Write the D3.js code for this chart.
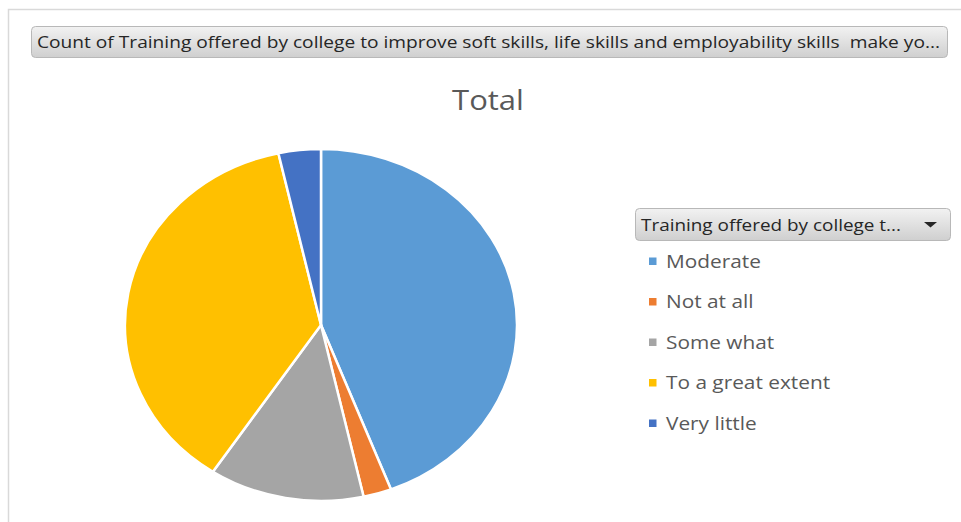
<!DOCTYPE html>
<html>
<head>
<meta charset="utf-8">
<script src="https://cdn.jsdelivr.net/npm/d3@7"></script>
<style>
  body { margin: 0; background: #fff; }
  svg { display: block; font-family: "Open Sans", sans-serif; }
  text { white-space: pre; }
</style>
</head>
<body>
<svg></svg>
<script>
// counts
var categories = ["Moderate", "Not at all", "Some what", "To a great extent", "Very little"];
var counts = [38, 2, 11, 32, 3];
var colors = ["#5B9BD5", "#ED7D31", "#A5A5A5", "#FFC000", "#4472C4"];
var fieldButton = "Count of Training offered by college to improve soft skills, life skills and employability skills  make yo...";
var legendButton = "Training offered by college t...";
var chartTitle = "Total";

var svgWidth = 961, svgHeight = 522;
var stretch = 1.107; // picture is a bit wider than tall

var svg = d3.select("svg")
  .attr("width", svgWidth)
  .attr("height", svgHeight);

var defs = svg.append("defs");
var grad = defs.append("linearGradient")
  .attr("id", "btn")
  .attr("x1", 0).attr("y1", 0).attr("x2", 0).attr("y2", 1);
grad.append("stop").attr("offset", "0%").attr("stop-color", "#f2f2f2");
grad.append("stop").attr("offset", "100%").attr("stop-color", "#cfcfcf");

// chart area border
svg.append("rect")
  .attr("x", 8.5).attr("y", 9.5)
  .attr("width", 1200).attr("height", 800)
  .attr("fill", "#fff")
  .attr("stroke", "#d9d9d9")
  .attr("stroke-width", 1.5);

// stretched text helper
function stretchedText(g, x, y, txt, size, color, width) {
  var t = g.append("text")
    .attr("transform", "translate(" + x + "," + y + ") scale(" + stretch + ",1)")
    .attr("dy", "0.35em")
    .attr("font-size", size)
    .attr("fill", color)
    .attr("xml:space", "preserve")
    .text(txt);
  if (width) {
    t.attr("textLength", width / stretch).attr("lengthAdjust", "spacingAndGlyphs");
  }
  return t;
}

// field button on top
svg.append("rect")
  .attr("x", 31.5).attr("y", 26.5)
  .attr("width", 916).attr("height", 31)
  .attr("rx", 4)
  .attr("fill", "url(#btn)")
  .attr("stroke", "#b8b8b8");
stretchedText(svg, 37, 42.5, fieldButton, 15.5, "#262626", 903);

// title
svg.append("text")
  .attr("x", 488)
  .attr("y", 110)
  .attr("text-anchor", "middle")
  .attr("font-size", 28)
  .attr("fill", "#595959")
  .attr("transform", "translate(488,0) scale(" + stretch + ",1) translate(-488,0)")
  .text(chartTitle);

// pie
var cx = 321, cy = 325, r = 176;
var pie = d3.pie().sort(null).value(function(d){ return d; });
var arc = d3.arc().innerRadius(0).outerRadius(r);

var pieG = svg.append("g")
  .attr("transform", "translate(" + cx + "," + cy + ") scale(" + (196 / r) + ",1)");

pieG.selectAll("path")
  .data(pie(counts))
  .enter()
  .append("path")
  .attr("d", arc)
  .attr("fill", function(d, i){ return colors[i]; })
  .attr("stroke", "#fff")
  .attr("stroke-width", 2.5)
  .attr("vector-effect", "non-scaling-stroke");

// legend button
svg.append("rect")
  .attr("x", 635.5).attr("y", 208.5)
  .attr("width", 315).attr("height", 32)
  .attr("rx", 4)
  .attr("fill", "url(#btn)")
  .attr("stroke", "#b8b8b8");
stretchedText(svg, 641, 225, legendButton, 17, "#262626", 260);
svg.append("path")
  .attr("d", d3.line()([[924, 222], [937, 222], [930.5, 227.5]]) + "Z")
  .attr("fill", "#262626");

// legend items
var yLegend = d3.scalePoint()
  .domain(categories)
  .range([261, 423]);

var items = svg.selectAll(".item")
  .data(categories)
  .enter()
  .append("g")
  .attr("class", "item");

items.append("rect")
  .attr("x", 649)
  .attr("y", function(d){ return yLegend(d) - 3.5; })
  .attr("width", 7.5).attr("height", 7.5)
  .attr("fill", function(d, i){ return colors[i]; });

items.each(function(d){
  stretchedText(d3.select(this), 666, yLegend(d), d, 18.8, "#595959");
});
</script>
</body>
</html>
